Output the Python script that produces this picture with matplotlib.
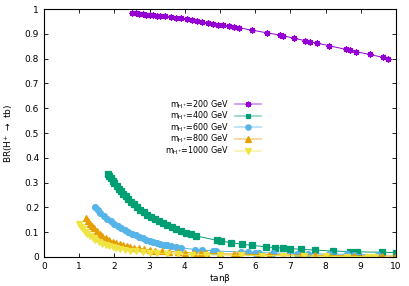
import numpy as np
import matplotlib
matplotlib.use('Agg')
import matplotlib.pyplot as plt
from matplotlib.colors import to_rgba

# m_H+ = 200 GeV
x200 = [2.50, 2.60, 2.70, 2.80, 2.90, 3.00, 3.10, 3.20, 3.30, 3.45, 3.60, 3.75, 3.90, 4.05, 4.20,
        4.35, 4.50, 4.65, 4.80, 4.95, 5.10, 5.25, 5.40, 5.55, 5.90, 6.33, 6.71, 6.80, 7.10, 7.43,
        7.55, 7.77, 8.10, 8.58, 8.70, 8.86, 9.25, 9.63, 9.77]
y200 = [0.983, 0.982, 0.980, 0.979, 0.977, 0.976, 0.974, 0.973, 0.972, 0.970, 0.967, 0.965, 0.963, 0.960, 0.957,
        0.953, 0.949, 0.944, 0.940, 0.937, 0.934, 0.930, 0.927, 0.924, 0.915, 0.904, 0.895, 0.892, 0.882, 0.872,
        0.868, 0.862, 0.852, 0.837, 0.833, 0.828, 0.817, 0.805, 0.798]

# m_H+ = 400 GeV
x400 = [1.82, 1.86, 1.90, 1.95, 2.00, 2.06, 2.12, 2.18, 2.25, 2.32, 2.40, 2.48, 2.56, 2.65, 2.74,
        2.84, 2.94, 3.04, 3.15, 3.26, 3.38, 3.50, 3.63, 3.76, 3.90, 4.04, 4.18, 4.32, 4.92, 5.02,
        5.30, 5.62, 5.90, 6.30, 6.55, 6.80, 7.00, 7.30, 7.70, 8.20, 8.70, 8.90, 9.60, 10.0]
y400 = [0.335, 0.326, 0.318, 0.308, 0.298, 0.287, 0.276, 0.266, 0.255, 0.244, 0.233, 0.222, 0.212, 0.201, 0.191,
        0.181, 0.171, 0.162, 0.153, 0.145, 0.136, 0.128, 0.120, 0.113, 0.105, 0.098, 0.091, 0.085, 0.067, 0.065,
        0.058, 0.052, 0.047, 0.041, 0.038, 0.036, 0.034, 0.031, 0.028, 0.024, 0.022, 0.021, 0.019, 0.018]

# m_H+ = 600 GeV
x600 = [1.46, 1.53, 1.60, 1.70, 1.80, 1.90, 2.00, 2.10, 2.20, 2.30, 2.40, 2.50, 2.60, 2.70, 2.80,
        2.90, 3.00, 3.10, 3.20, 3.30, 3.40, 3.50, 3.60, 3.75, 3.90, 4.30, 4.50, 4.80, 4.90, 5.60,
        5.80, 6.00, 6.10, 6.50, 7.20, 7.50, 8.10, 8.60, 8.80, 9.50]
y600 = [0.200, 0.189, 0.178, 0.166, 0.155, 0.145, 0.135, 0.126, 0.117, 0.108, 0.100, 0.093, 0.087, 0.081, 0.075,
        0.069, 0.064, 0.060, 0.057, 0.053, 0.050, 0.047, 0.044, 0.040, 0.037, 0.030, 0.028, 0.025, 0.024, 0.020,
        0.019, 0.018, 0.018, 0.016, 0.014, 0.013, 0.012, 0.011, 0.010, 0.009]

# m_H+ = 800 GeV
x800 = [1.20, 1.25, 1.30, 1.36, 1.42, 1.50, 1.58, 1.66, 1.75, 1.85, 1.95, 2.05, 2.15, 2.25, 2.35,
        2.45, 2.55, 2.70, 2.85, 3.00, 3.15, 3.35, 3.55, 3.80, 4.00, 4.25, 4.45, 4.60, 5.00, 5.40,
        5.50, 6.10, 6.40, 7.30, 7.70, 8.10, 8.80, 9.60, 10.0]
y800 = [0.156, 0.145, 0.135, 0.125, 0.115, 0.104, 0.094, 0.085, 0.077, 0.069, 0.062, 0.056, 0.051, 0.047, 0.044,
        0.041, 0.038, 0.035, 0.031, 0.028, 0.026, 0.024, 0.022, 0.020, 0.018, 0.017, 0.016, 0.015, 0.013, 0.012,
        0.012, 0.010, 0.009, 0.008, 0.007, 0.006, 0.005, 0.004, 0.004]

# m_H+ = 1000 GeV
x1000 = [1.00, 1.05, 1.10, 1.16, 1.22, 1.30, 1.38, 1.46, 1.55, 1.65, 1.75, 1.85, 1.95, 2.05, 2.15,
         2.30, 2.45, 2.60, 2.80, 3.00, 3.20, 3.50, 3.80, 4.20, 4.60, 5.00, 5.60, 6.20, 6.80, 7.40,
         8.00, 8.60, 9.20, 9.40]
y1000 = [0.133, 0.122, 0.112, 0.102, 0.093, 0.084, 0.076, 0.068, 0.061, 0.054, 0.048, 0.043, 0.039, 0.035, 0.032,
         0.029, 0.026, 0.023, 0.020, 0.018, 0.016, 0.014, 0.012, 0.010, 0.009, 0.008, 0.007, 0.006, 0.005, 0.004,
         0.003, 0.002, 0.002, 0.001]

masses = ['200', '400', '600', '800', '1000']
xs = [x200, x400, x600, x800, x1000]
ys = [y200, y400, y600, y800, y1000]
colors = ['#9400d3', '#009e73', '#56b4e9', '#e69f00', '#f0e442']
markers = [(8, 2, 0), 's', 'o', '^', 'v']
msizes = [4.5, 3.8, 4.2, 4.2, 4.2]

fig = plt.figure(figsize=(4.09, 2.86), dpi=100)
ax = fig.add_axes([0.1076, 0.1014, 0.8604, 0.8671])

for x, y, c, m, ms, lab in zip(xs, ys, colors, markers, msizes, masses):
    ax.plot(x, y, color=c, lw=0.7, marker=m, ms=ms, mec=c, mfc=c, mew=0.9,
            label=r'm$_{\mathregular{H^{+}}}$=' + lab + ' GeV')

ax.set_xlim(0, 10)
ax.set_ylim(0, 1)
ax.set_xticks(range(0, 11))
ax.set_yticks(np.arange(0, 1.01, 0.1))
ax.set_yticklabels(['0', '0.1', '0.2', '0.3', '0.4', '0.5', '0.6', '0.7', '0.8', '0.9', '1'])
ax.tick_params(direction='in', top=True, right=True, labelsize=6.5, length=3, width=0.6)
for s in ax.spines.values():
    s.set_linewidth(0.8)

ax.set_xlabel(r'tan$\mathregular{\beta}$', fontsize=6.5, labelpad=1)
ax.set_ylabel(r'BR(H$^{+}$ $\rightarrow$ tb)', fontsize=6.5, labelpad=7)

leg = ax.legend(loc='center', bbox_to_anchor=(0.48, 0.522), frameon=False, markerfirst=False,
                fontsize=5.8, handlelength=3.2, labelspacing=-0.12, handletextpad=0.8,
                markerscale=0.9)
for h, c in zip(leg.legend_handles, colors):
    h.set_color(to_rgba(c, 0.45))
    h.set_markerfacecolor(c)
    h.set_markeredgecolor(c)
    h.set_linewidth(1.2)

fig.savefig('out.png', dpi=100)
